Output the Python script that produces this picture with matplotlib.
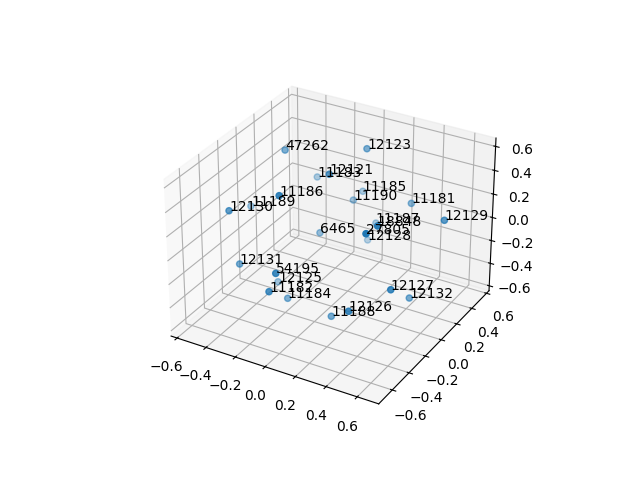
import matplotlib
matplotlib.use('Agg')
import matplotlib.pyplot as plt

labels = ['47262','12123','12121','11183','11186','11189','12130','11185','11190','11181','12129','11187','18848','27805','12128','6465','12131','54195','12125','11182','11184','12127','12132','12126','11188']
x = [-0.242, 0.155, 0.124, -0.207, 0.011, -0.463, -0.336, 0.046, 0.047, 0.412, 0.736, 0.16, 0.561, 0.547, 0.107, -0.038, -0.283, 0.081, -0.215, 0.035, -0.033, 0.651, 0.601, 0.48, 0.243]
y = [-0.109, 0.142, -0.238, 0.196, -0.594, -0.139, -0.57, 0.295, 0.179, 0.213, -0.008, 0.252, -0.472, -0.577, 0.249, -0.066, -0.557, -0.757, -0.253, -0.757, -0.446, -0.477, -0.154, -0.646, -0.424]
z = [0.668, 0.668, 0.669, 0.28, 0.669, 0.143, 0.411, 0.187, 0.182, 0.262, 0.372, -0.019, 0.55, 0.549, -0.183, 0.024, -0.019, 0.172, -0.344, 0.004, -0.287, 0.073, -0.232, -0.057, -0.346]

fig = plt.figure()
ax = fig.add_subplot(projection='3d')
ax.scatter(x, y, z)
for a, b, c, t in zip(x, y, z, labels):
    ax.text(a, b, c, t)
ax.set_xlim(-.642, .736)
ax.set_ylim(-.758, .635)
ax.set_zlim(-.644, .669)
fig.savefig('out.png', dpi=100)
